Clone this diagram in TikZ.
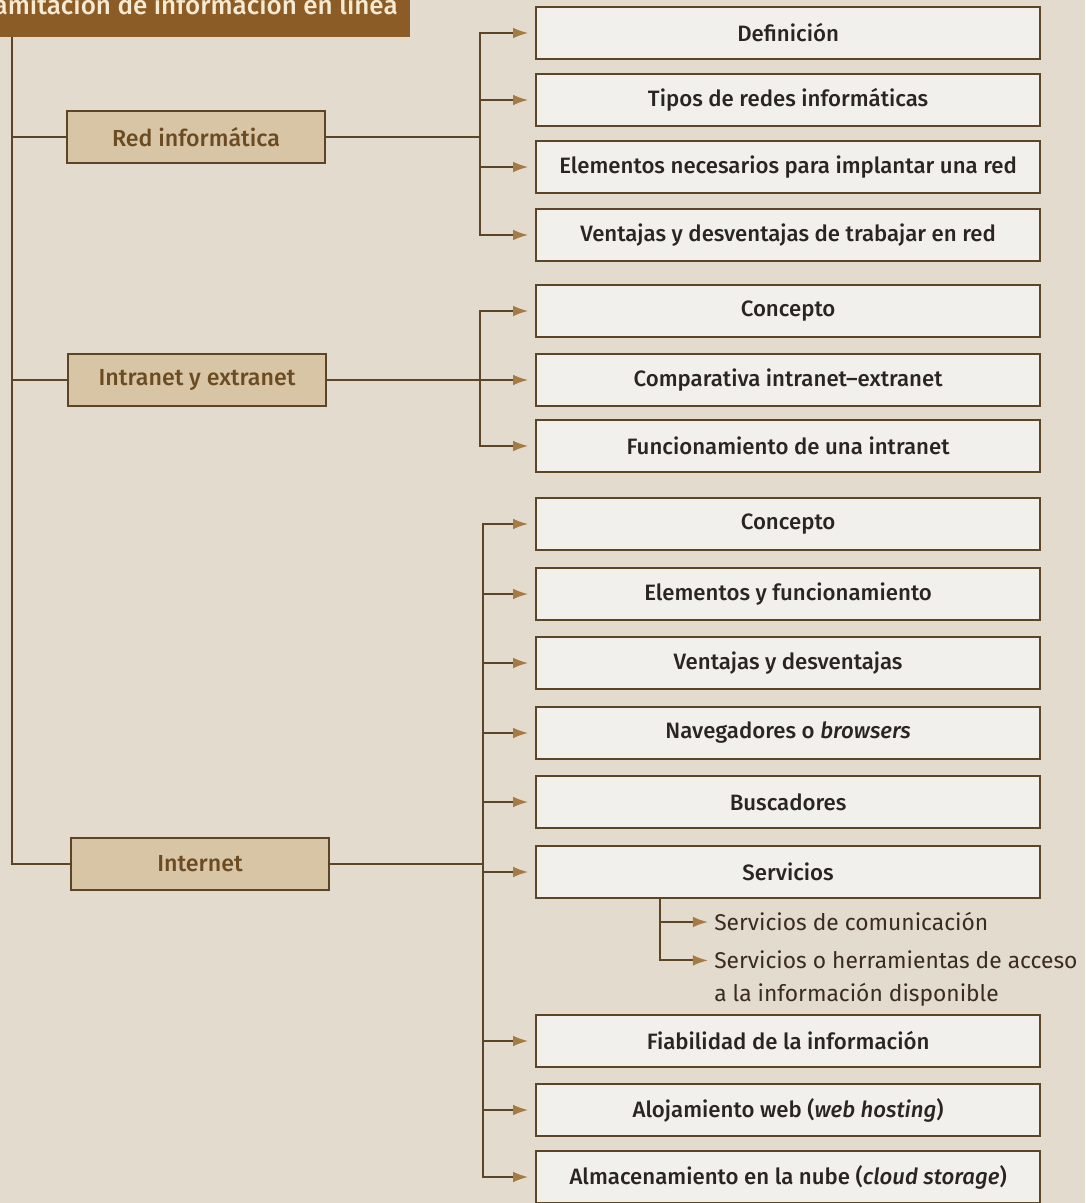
\documentclass[tikz,border=0pt]{standalone}
\usepackage{fontspec}
\setmainfont{Fira Sans}[BoldFont={Fira Sans Medium}]
\usetikzlibrary{arrows.meta,positioning}
\definecolor{bgbeige}{HTML}{E3DBCD}
\definecolor{tanfill}{HTML}{D8C5A6}
\definecolor{titlebrown}{HTML}{8C5C26}
\definecolor{titletext}{HTML}{F6EAD2}
\definecolor{linebrown}{HTML}{5C4426}
\definecolor{arrowgold}{HTML}{A47B44}
\definecolor{boxwhite}{HTML}{F2F0EC}
\definecolor{textdark}{HTML}{2B2521}
\definecolor{subtext}{HTML}{3A2C1E}
\definecolor{texttan}{HTML}{6B4B22}
\tikzset{
  titlebox/.style={fill=titlebrown, text=titletext, font=\fontsize{18.5}{21}\selectfont\bfseries,
                   minimum height=1.65cm, inner xsep=0.3cm},
  topic/.style={draw=linebrown, line width=1.5pt, fill=tanfill, text=texttan,
                font=\fontsize{16.5}{19}\selectfont\bfseries, minimum width=6.45cm, minimum height=1.3cm},
  item/.style={draw=linebrown, line width=1.5pt, fill=boxwhite, text=textdark, anchor=west,
               font=\fontsize{15.8}{18}\selectfont\bfseries, minimum width=12.6cm, minimum height=1.3cm},
  subitem/.style={text=subtext, font=\fontsize{16.2}{23.5}\selectfont, align=left, inner sep=0pt},
  ln/.style={linebrown, line width=1.4pt},
  arr/.style={ln, -{Latex[length=0.38cm, width=0.27cm, color=arrowgold]}, shorten >=0.17cm},
  subarr/.style={arr, shorten >=0.15cm},
}
\begin{document}
\begin{tikzpicture}[x=0.025cm, y=-0.025cm]
    \useasboundingbox (0,0) rectangle (1085,1203);
    \clip (0,0) rectangle (1085,1203);
    \fill[bgbeige] (0,0) rectangle (1085,1203);
    \node[titlebox, anchor=east] (title) at (410,4) {Tramitación de información en línea};
    \node[topic] (red) at (196,137) {Red informática};
    \node[topic] (intra) at (197,380) {Intranet y extranet};
    \node[topic] (inter) at (200,864) {Internet};
    \node[item] (def) at (535,33) {Definición};
    \node[item] (tipos) at (535,100) {Tipos de redes informáticas};
    \node[item] (elem) at (535,167) {Elementos necesarios para implantar una red};
    \node[item] (vent) at (535,235) {Ventajas y desventajas de trabajar en red};
    \node[item] (conc) at (535,311) {Concepto};
    \node[item] (comp) at (535,380) {Comparativa intranet--extranet};
    \node[item] (func) at (535,446) {Funcionamiento de una intranet};
    \node[item] (iconc) at (535,524) {Concepto};
    \node[item] (ielem) at (535,594) {Elementos y funcionamiento};
    \node[item] (ivent) at (535,663) {Ventajas y desventajas};
    \node[item] (nav) at (535,733) {Navegadores o \textit{browsers}};
    \node[item] (busc) at (535,802) {Buscadores};
    \node[item] (serv) at (535,872) {Servicios};
    \node[subitem, anchor=west] (scom) at (714,922) {Servicios de comunicación};
    \node[subitem, anchor=north west] (sherr) at (714,950) {Servicios o herramientas de acceso\\a la información disponible};
    \node[item] (fiab) at (535,1041) {Fiabilidad de la información};
    \node[item] (aloj) at (535,1110) {Alojamiento web (\textit{web hosting})};
    \node[item] (alm) at (535,1177) {Almacenamiento en la nube (\textit{cloud storage})};
    \coordinate (spine) at (12,37);
    \coordinate (redtr) at (480,0);
    \coordinate (intratr) at (480,0);
    \coordinate (intertr) at (483,0);
    \coordinate (servtr) at (660,898);
    \draw[ln] (spine) |- (inter.west);
    \draw[ln] (spine |- red.west) -- (red.west);
    \draw[ln] (spine |- intra.west) -- (intra.west);
    \foreach \k in {def,tipos,elem,vent}
      \draw[arr] (red.east) -- (red.east -| redtr) |- (\k.west);
    \foreach \k in {conc,comp,func}
      \draw[arr] (intra.east) -- (intra.east -| intratr) |- (\k.west);
    \foreach \k in {iconc,ielem,ivent,nav,busc,serv,fiab,aloj,alm}
      \draw[arr] (inter.east) -- (inter.east -| intertr) |- (\k.west);
    \draw[subarr] (servtr) |- (scom.west);
    \draw[subarr] (servtr) |- ([yshift=-0.26cm]sherr.north west);
  \end{tikzpicture}
\end{document}
